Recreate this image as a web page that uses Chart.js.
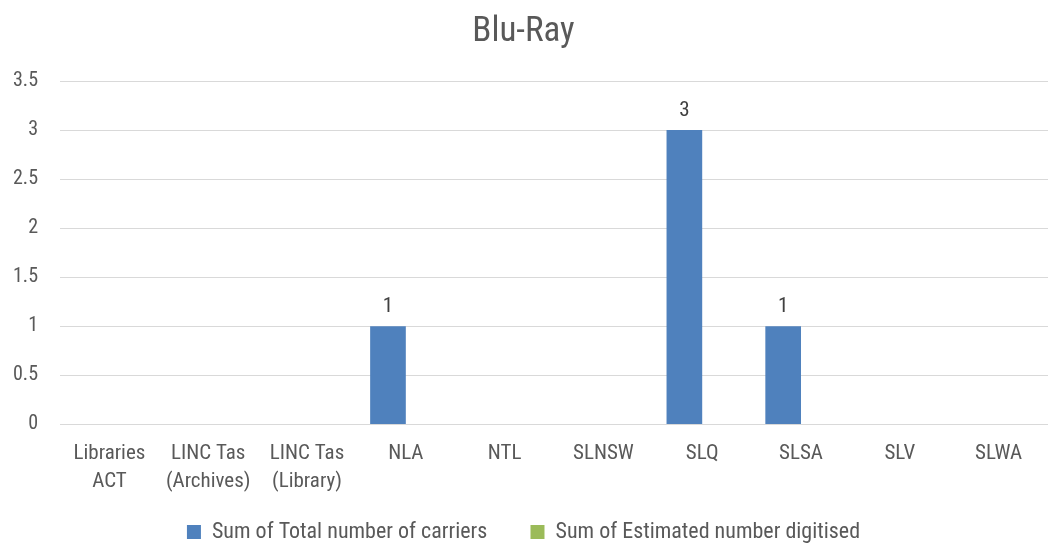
<!DOCTYPE html>
<html>
<head>
<meta charset="utf-8">
<script src="https://cdn.jsdelivr.net/npm/chart.js@4"></script>
<style>
  html, body { margin: 0; padding: 0; background: #fff; }
  #wrap { width: 1048px; height: 544px; }
</style>
</head>
<body>
<div id="wrap"><canvas id="grafico" width="1048" height="544"></canvas></div>
<script>
const categorias = [
  ['Libraries', 'ACT'], ['LINC Tas', '(Archives)'], ['LINC Tas', '(Library)'],
  'NLA', 'NTL', 'SLNSW', 'SLQ', 'SLSA', 'SLV', 'SLWA'
];
const totalSoportes = [0, 0, 0, 1, 0, 0, 3, 1, 0, 0];
const digitalizados = [0, 0, 0, 0, 0, 0, 0, 0, 0, 0];
const nombresSeries = ['Sum of Total number of carriers', 'Sum of Estimated number digitised'];
const ticksY = [0, 0.5, 1, 1.5, 2, 2.5, 3, 3.5];

const fuente = "'Liberation Sans Narrow', 'Arial Narrow', 'Roboto Condensed', sans-serif";
const gris = '#595959';

// etiquetas de valor encima de las barras azules (solo las que no son cero)
const etiquetasValor = {
  id: 'etiquetasValor',
  afterDatasetsDraw(chart) {
    const ctx = chart.ctx;
    const meta = chart.getDatasetMeta(0);
    ctx.save();
    ctx.font = '21px ' + fuente;
    ctx.fillStyle = '#404040';
    ctx.textAlign = 'center';
    ctx.textBaseline = 'bottom';
    meta.data.forEach(function(barra, i) {
      const v = totalSoportes[i];
      if (v > 0) ctx.fillText(String(v), barra.x, barra.y - 9);
    });
    ctx.restore();
  }
};

const ctx = document.getElementById('grafico').getContext('2d');
new Chart(ctx, {
  type: 'bar',
  data: {
    labels: categorias,
    datasets: [{
      label: nombresSeries[0] + '     ',
      data: totalSoportes,
      backgroundColor: '#4F81BD',
      barPercentage: 1,
      categoryPercentage: 0.722
    }, {
      label: nombresSeries[1],
      data: digitalizados,
      backgroundColor: '#9BBB59',
      barPercentage: 1,
      categoryPercentage: 0.722
    }]
  },
  options: {
    responsive: false,
    animation: false,
    layout: { padding: { left: -9, right: -8, top: 0, bottom: -9 } },
    plugins: {
      title: {
        display: true,
        text: 'Blu-Ray',
        color: gris,
        font: { family: fuente, size: 35, weight: 'normal' },
        padding: { top: 11, bottom: 28 }
      },
      legend: {
        position: 'bottom',
        labels: {
          color: gris,
          font: { family: fuente, size: 22 },
          boxWidth: 14,
          boxHeight: 14,
          padding: 18
        }
      },
      tooltip: { enabled: false }
    },
    scales: {
      x: {
        grid: { display: false },
        border: { color: '#d9d9d9' },
        ticks: {
          color: gris,
          font: { family: fuente, size: 21, lineHeight: 1.3 },
          maxRotation: 0,
          autoSkip: false,
          padding: 8
        }
      },
      y: {
        min: 0,
        max: 3.5,
        afterBuildTicks: function(eje) {
          eje.ticks = ticksY.map(function(v) { return { value: v }; });
        },
        grid: { color: '#d9d9d9', drawTicks: false },
        border: { display: false },
        ticks: {
          color: gris,
          font: { family: fuente, size: 20 },
          padding: 22,
          callback: function(v) { return String(v); }
        }
      }
    }
  },
  plugins: [etiquetasValor]
});
</script>
</body>
</html>
